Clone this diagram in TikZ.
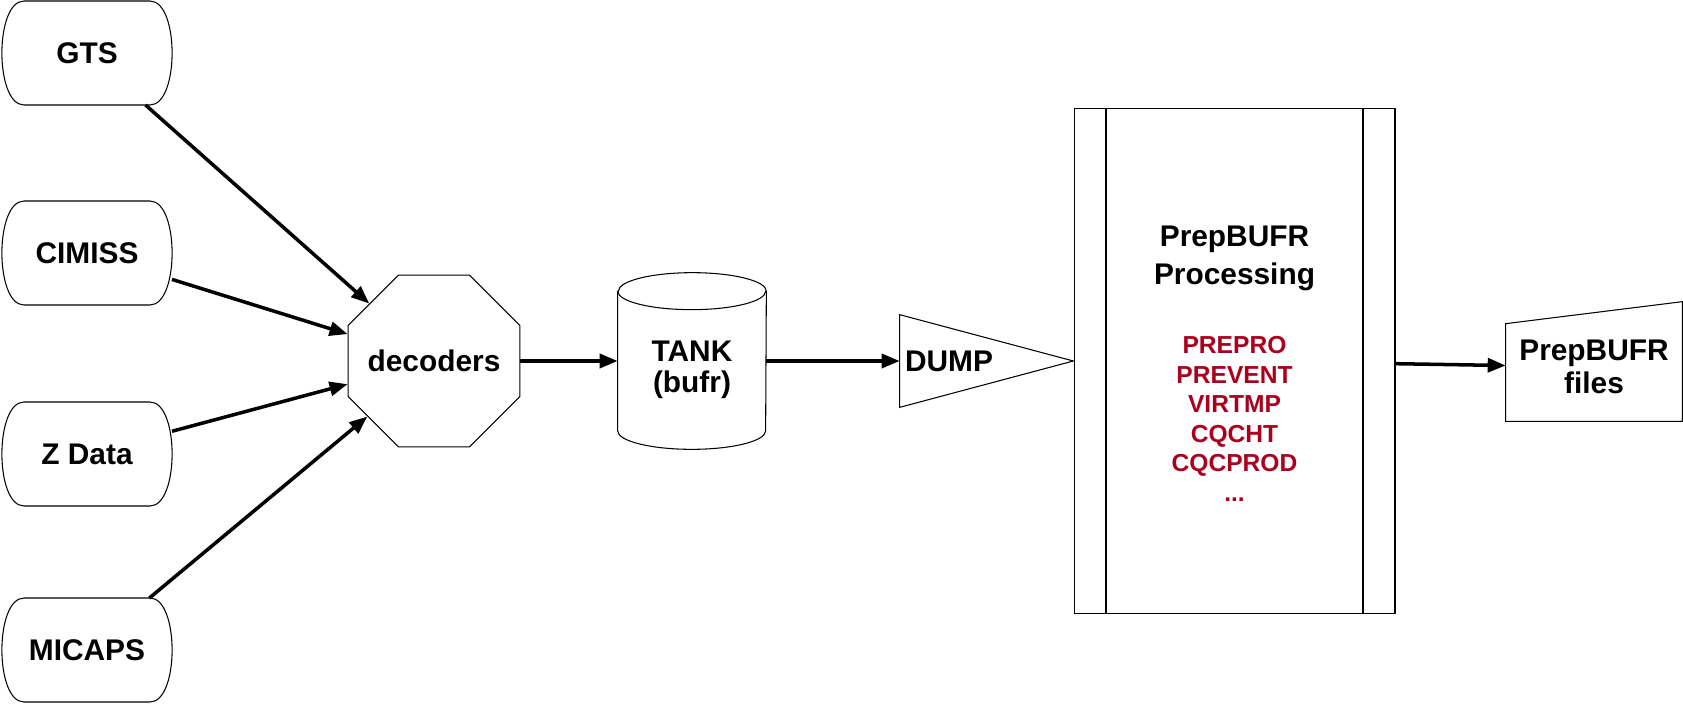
\documentclass[tikz,border=0pt]{standalone}
\usepackage{fontspec}
\setmainfont{Liberation Sans}
\usepackage{tikz}
\usetikzlibrary{shapes.geometric, arrows.meta, positioning, calc}
\definecolor{stepRed}{RGB}{170, 0, 30}

\begin{document}
\begin{tikzpicture}[x=0.02cm, y=-0.02cm,
        bold label/.style={font=\fontsize{17}{#1}\selectfont\bfseries},
        bold label/.default=20pt,
        outline/.style={draw=black, line width=0.6pt},
        source/.style={rectangle, minimum width=3.4cm, minimum height=2.08cm, inner sep=0pt, outer sep=0pt, bold label},
        flow/.style={-{Triangle[length=0.36cm, width=0.28cm]}, line width=2pt}]
        \useasboundingbox (0,0) rectangle (1683,703);

        % Data sources
        \node[source] (gts) at (87,53) {GTS};
        \node[source] (cimiss) at (87,253) {CIMISS};
        \node[source] (zdata) at (87,454) {Z Data};
        \node[source] (micaps) at (87,650) {MICAPS};
        \foreach \src in {gts, cimiss, zdata, micaps}
            \draw[outline] ([xshift=0.44cm]\src.north west) -- ([xshift=-0.44cm]\src.north east)
                .. controls ([xshift=0.15cm]\src.north east) and ([xshift=0.15cm]\src.south east) .. ([xshift=-0.44cm]\src.south east)
                -- ([xshift=0.44cm]\src.south west)
                .. controls ([xshift=-0.15cm]\src.south west) and ([xshift=-0.15cm]\src.north west) .. cycle;

        % Decoders
        \node[regular polygon, regular polygon sides=8, outline, minimum size=3.72cm, inner sep=0pt,
            label={[bold label]center:decoders}] (dec) at (434,361) {};
        \foreach \src in {gts, cimiss, zdata, micaps}
            \draw[flow] (\src) -- (dec);

        % Tank
        \node[minimum width=2.96cm, minimum height=3.52cm, inner sep=0pt] (tank) at (692,361) {};
        \draw[outline] ([yshift=-0.37cm]tank.north west) -- ([yshift=0.37cm]tank.south west)
            arc[start angle=180, end angle=360, x radius=1.48cm, y radius=0.37cm]
            -- ([yshift=-0.37cm]tank.north east)
            arc[start angle=0, end angle=180, x radius=1.48cm, y radius=0.37cm] -- cycle;
        \draw[outline] ([yshift=-0.37cm]tank.north west)
            arc[start angle=180, end angle=360, x radius=1.48cm, y radius=0.37cm];
        \node[bold label=17.6pt, align=center] (tanktext) at (692,370) {TANK\\(bufr)};
        \draw[flow] (dec) -- (tank);

        % Dump
        \node[bold label, minimum width=3.46cm, minimum height=1.84cm, inner xsep=0.1cm, text width=3.26cm, align=left]
            (dump) at (986.5,361) {DUMP};
        \draw[outline] (dump.north west) -- (dump.east) -- (dump.south west) -- cycle;
        \draw[flow] (tank) -- (dump);

        % PrepBUFR processing
        \node[outline, minimum width=6.42cm, minimum height=10.12cm, inner sep=0pt] (proc) at (1234.5,361) {};
        \draw[outline] ([xshift=0.65cm]proc.north west) -- ([xshift=0.65cm]proc.south west);
        \draw[outline] ([xshift=-0.65cm]proc.north east) -- ([xshift=-0.65cm]proc.south east);
        \node[bold label=21.6pt, align=center] (proctitle) at (1234.5,258) {PrepBUFR\\Processing};
        \node[align=center, text=stepRed, font=\fontsize{14}{16.8}\selectfont\bfseries]
            (procsteps) at (1234.5,419) {PREPRO\\PREVENT\\VIRTMP\\CQCHT\\CQCPROD\\...};

        % Output files
        \node[bold label=18.8pt, align=center, minimum width=3.52cm, minimum height=2.16cm, inner sep=0pt]
            (files) at (1594,367) {PrepBUFR\\files};
        \draw[outline] (files.south west) -- ([yshift=-0.22cm]files.north west)
            -- ([yshift=0.22cm]files.north east) -- (files.south east) -- cycle;
        \draw[flow] (proc) -- (files);
    \end{tikzpicture}
\end{document}
